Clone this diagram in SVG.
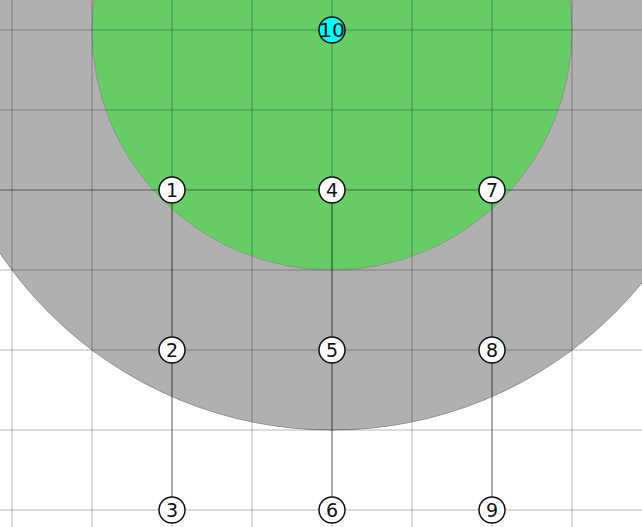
<svg xmlns="http://www.w3.org/2000/svg" width="642" height="527" viewBox="0 0 642 527">
<style>
.grid line{stroke:#000;stroke-opacity:0.19;stroke-width:1.5}
.axis{stroke:#000;stroke-opacity:0.32;stroke-width:1.5}
.edge{stroke:#000;stroke-opacity:0.3;stroke-width:1.5;fill:none}
.node circle{fill:#fff;stroke:#111;stroke-width:1.5}
.node text{font-family:"DejaVu Sans",sans-serif;font-size:19px;fill:#111;text-anchor:middle;dominant-baseline:central}
</style>
<rect width="642" height="527" fill="#fff"/>
<g id="areas">
<circle id="outer-area" cx="332" cy="30" r="400" fill="#b0b0b0" stroke="#8e8e8e" stroke-width="1"/>
<circle id="inner-area" cx="332" cy="30" r="240" fill="#66cc66" stroke="#8a9a8a" stroke-width="1"/>
</g>
<g class="grid" id="grid">
<line x1="12" y1="0" x2="12" y2="527"/>
<line x1="92" y1="0" x2="92" y2="527"/>
<line x1="172" y1="0" x2="172" y2="527"/>
<line x1="252" y1="0" x2="252" y2="527"/>
<line x1="332" y1="0" x2="332" y2="527"/>
<line x1="412" y1="0" x2="412" y2="527"/>
<line x1="492" y1="0" x2="492" y2="527"/>
<line x1="572" y1="0" x2="572" y2="527"/>
<line x1="0" y1="30" x2="642" y2="30"/>
<line x1="0" y1="110" x2="642" y2="110"/>
<line x1="0" y1="270" x2="642" y2="270"/>
<line x1="0" y1="350" x2="642" y2="350"/>
<line x1="0" y1="430" x2="642" y2="430"/>
<line x1="0" y1="510" x2="642" y2="510"/>
</g>
<line class="axis" x1="0" y1="190" x2="642" y2="190"/>
<g id="connectors">
<line class="edge" x1="172" y1="190" x2="172" y2="350"/>
<line class="edge" x1="172" y1="350" x2="172" y2="510"/>
<line class="edge" x1="332" y1="190" x2="332" y2="350"/>
<line class="edge" x1="332" y1="350" x2="332" y2="510"/>
<line class="edge" x1="492" y1="190" x2="492" y2="350"/>
<line class="edge" x1="492" y1="350" x2="492" y2="510"/>
</g>
<g id="node1" class="node"><circle cx="172" cy="190" r="13"/><text x="172" y="190">1</text></g>
<g id="node2" class="node"><circle cx="172" cy="350" r="13"/><text x="172" y="350">2</text></g>
<g id="node3" class="node"><circle cx="172" cy="510" r="13"/><text x="172" y="510">3</text></g>
<g id="node4" class="node"><circle cx="332" cy="190" r="13"/><text x="332" y="190">4</text></g>
<g id="node5" class="node"><circle cx="332" cy="350" r="13"/><text x="332" y="350">5</text></g>
<g id="node6" class="node"><circle cx="332" cy="510" r="13"/><text x="332" y="510">6</text></g>
<g id="node7" class="node"><circle cx="492" cy="190" r="13"/><text x="492" y="190">7</text></g>
<g id="node8" class="node"><circle cx="492" cy="350" r="13"/><text x="492" y="350">8</text></g>
<g id="node9" class="node"><circle cx="492" cy="510" r="13"/><text x="492" y="510">9</text></g>
<g id="node10" class="node"><circle cx="332" cy="30" r="13" style="fill:#00ffff"/><text x="332" y="30" textLength="26" lengthAdjust="spacingAndGlyphs">10</text></g>
</svg>
